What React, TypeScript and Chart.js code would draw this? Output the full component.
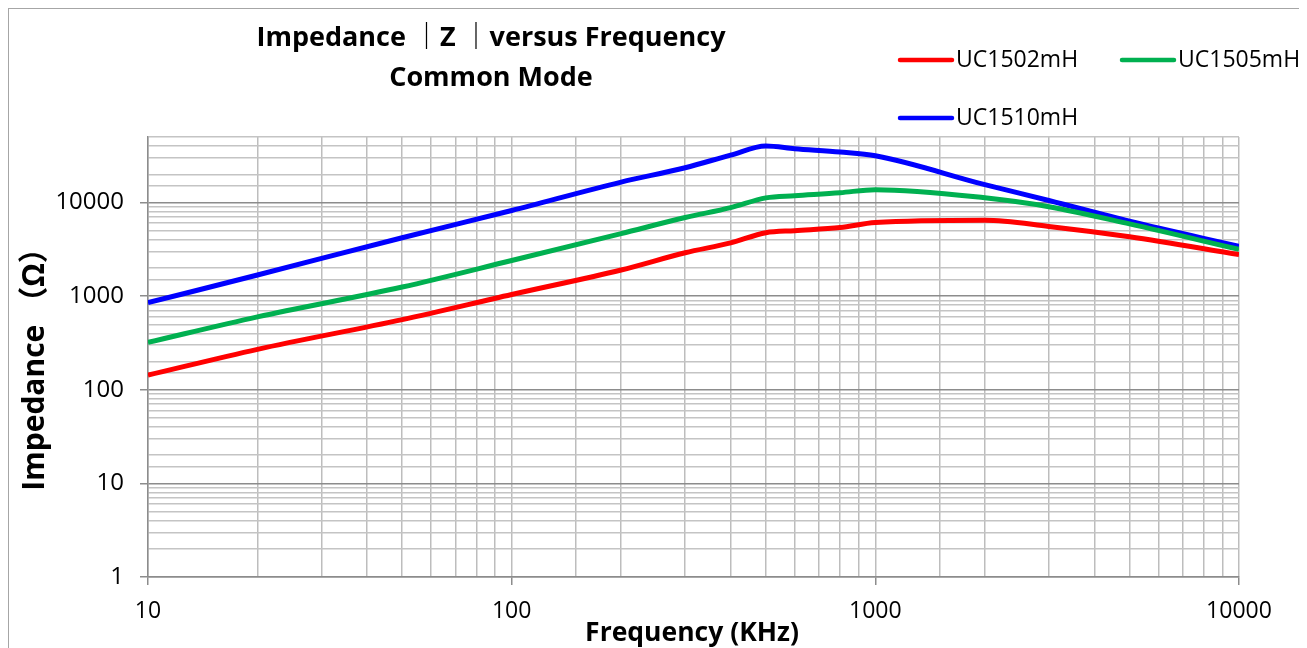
import React, { useEffect, useRef } from "react";
import { Chart, registerables } from "chart.js";

Chart.register(...registerables);

const frequencies = [10, 20, 50, 100, 200, 300, 400, 500, 600, 800, 1000, 2000, 3000, 5000, 10000];
const uc1502 = [143, 270, 560, 1040, 1900, 2900, 3700, 4750, 5000, 5400, 6100, 6450, 5550, 4300, 2770];
const uc1505 = [320, 600, 1250, 2400, 4650, 6900, 8800, 11200, 11800, 12700, 13700, 11200, 9000, 5900, 3150];
const uc1510 = [850, 1680, 4200, 8200, 16500, 23500, 32000, 40000, 37500, 34500, 31500, 15500, 10500, 6300, 3400];

const seriesNames = ["UC1502mH", "UC1505mH", "UC1510mH"];
const seriesColors = ["#ff0000", "#00b050", "#0000ff"];
const titleLines = ["Impedance ｜Z ｜versus Frequency", "Common Mode"];
const xTitle = "Frequency (KHz)";
const yTitle = "Impedance （Ω）";

const FONT = "'Open Sans', 'Noto Sans', 'Noto Sans CJK SC', sans-serif";

const isDecade = (v: number) => {
  const l = Math.log10(v);
  return Math.abs(l - Math.round(l)) < 1e-9;
};

const decorPlugin = {
  id: "decor",
  afterDraw(chart: any) {
    const ctx = chart.ctx;
    ctx.save();
    ctx.fillStyle = "#000";
    ctx.textBaseline = "middle";
    ctx.textAlign = "center";
    ctx.font = `bold 27px ${FONT}`;
    ctx.fillText(titleLines[0], 482, 29);
    ctx.fillText(titleLines[1], 482, 69);

    ctx.font = `bold 26.5px ${FONT}`;
    ctx.fillText(xTitle, 683, 624);

    ctx.save();
    ctx.translate(26, 353);
    ctx.rotate(-Math.PI / 2);
    ctx.font = `bold 30px ${FONT}`;
    ctx.fillText(yTitle, 0, 0);
    ctx.restore();

    const items = [
      { x: 889, y: 51 },
      { x: 1111, y: 51 },
      { x: 889, y: 109 },
    ];
    ctx.font = `23px ${FONT}`;
    ctx.textAlign = "left";
    items.forEach((it, i) => {
      ctx.strokeStyle = seriesColors[i];
      ctx.lineWidth = 4.5;
      ctx.lineCap = "round";
      ctx.beginPath();
      ctx.moveTo(it.x + 2, it.y);
      ctx.lineTo(it.x + 54, it.y);
      ctx.stroke();
      ctx.fillStyle = "#000";
      ctx.fillText(seriesNames[i], it.x + 58, it.y);
    });
    ctx.restore();
  },
};

export default function App() {
  const ref = useRef<HTMLCanvasElement | null>(null);
  useEffect(() => {
    if (!ref.current) return;
    const series = [uc1502, uc1505, uc1510];
    const chart = new Chart(ref.current, {
      type: "line",
      data: {
        datasets: series.map((s, i) => ({
          label: seriesNames[i],
          data: s.map((v, j) => ({ x: frequencies[j], y: v })),
          borderColor: seriesColors[i],
          backgroundColor: seriesColors[i],
          borderWidth: 5,
          pointRadius: 0,
          cubicInterpolationMode: "monotone" as const,
          fill: false,
        })),
      },
      options: {
        animation: false,
        responsive: false,
        layout: { padding: { top: 128, right: 60, left: 0, bottom: 0 } },
        plugins: { legend: { display: false }, title: { display: false }, tooltip: { enabled: false } },
        scales: {
          x: {
            type: "logarithmic",
            min: 10,
            max: 10000,
            afterFit(scale: any) {
              scale.height = 72;
            },
            border: { color: "#8c8c8c", width: 1.5 },
            grid: {
              color: "#bdbdbd",
              lineWidth: 1.5,
              tickLength: 8,
              tickColor: (c: any) => (c.tick && isDecade(c.tick.value) ? "#8c8c8c" : "rgba(0,0,0,0)"),
            },
            ticks: {
              autoSkip: false,
              maxRotation: 0,
              padding: 13,
              color: "#000",
              font: { family: FONT, size: 23 },
              callback: (v: any) => (isDecade(Number(v)) ? String(v) : ""),
            },
          },
          y: {
            type: "logarithmic",
            min: 1,
            max: 50000,
            afterFit(scale: any) {
              scale.width = 139;
            },
            border: { color: "#8c8c8c", width: 1.5 },
            grid: {
              color: (c: any) => (c.tick && isDecade(c.tick.value) ? "#8c8c8c" : "#c4c4c4"),
              lineWidth: 1.5,
              tickLength: 8,
              tickColor: (c: any) => (c.tick && isDecade(c.tick.value) ? "#8c8c8c" : "rgba(0,0,0,0)"),
            },
            ticks: {
              autoSkip: false,
              padding: 16,
              color: "#000",
              font: { family: FONT, size: 24 },
              callback: (v: any) => (isDecade(Number(v)) ? String(v) : ""),
            },
          },
        },
      },
      plugins: [decorPlugin],
    });
    return () => chart.destroy();
  }, []);

  return (
    <div
      style={{
        position: "relative",
        width: 1290,
        height: 650,
        border: "1px solid #a6a6a6",
        background: "#fff",
      }}
    >
      <canvas ref={ref} width={1290} height={640} style={{ display: "block", width: 1290, height: 640 }} />
    </div>
  );
}
